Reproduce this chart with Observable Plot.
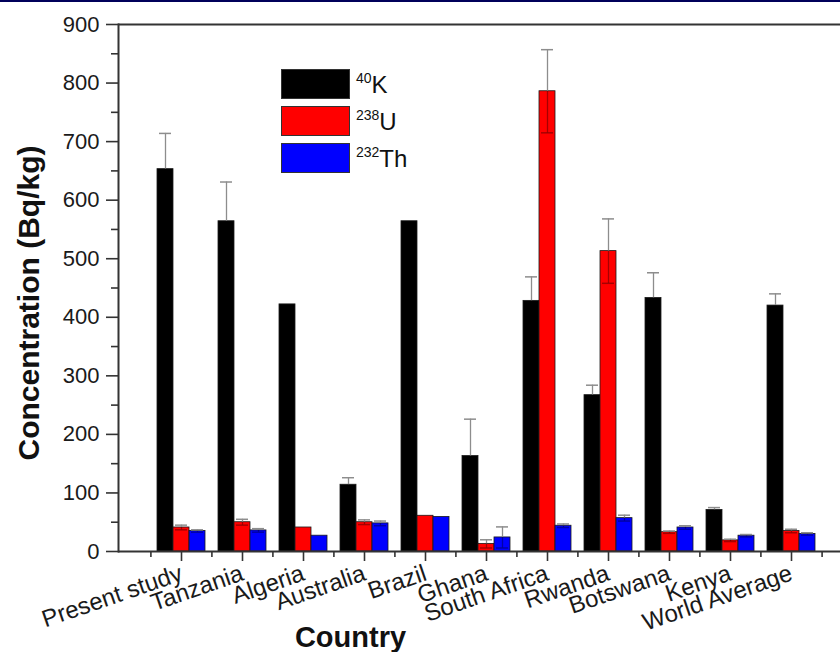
<!DOCTYPE html>
<html>
<head>
<meta charset="utf-8">
<script src="https://cdn.jsdelivr.net/npm/d3@7"></script>
<script src="https://cdn.jsdelivr.net/npm/@observablehq/plot@0.6"></script>
<style>
  html, body { margin: 0; padding: 0; background: #fff; overflow: hidden; }
  #wrap { position: relative; width: 840px; height: 652px; overflow: hidden; background: #fff; }
  #topbar { position: absolute; left: 0; top: 0; width: 840px; height: 2px; background: #00005a; }
  #legend { position: absolute; left: 281px; top: 69px; font-family: "Liberation Sans", Arial, sans-serif; color: #111; }
  .lrow { position: absolute; left: 0; height: 30px; width: 200px; }
  .lbox { position: absolute; left: 0; top: 0; width: 67px; height: 28px; border: 1px solid #333; }
  .ltxt { position: absolute; left: 75px; top: 2px; font-size: 24px; line-height: 28px; white-space: nowrap; }
  .ltxt sup { font-size: 14px; vertical-align: 0; position: relative; top: -10px; }
</style>
</head>
<body>
<div id="wrap">
  <div id="chart"></div>
  <div id="legend"></div>
  <div id="topbar"></div>
</div>
<script>
// ---- data ----
const countries = ["Present study", "Tanzania", "Algeria", "Australia", "Brazil", "Ghana", "South Africa", "Rwanda", "Botswana", "Kenya", "World Average"];
const k40 =      [653, 564, 422, 114, 564, 163, 428, 267, 433, 71, 420];
const k40Err =   [ 61,  67,   0,  12,   0,  63,  41,  17,  43,  4,  20];
const u238 =     [ 41,  50,  41,  50,  61,  13, 786, 513,  33, 19,  35];
const u238Err =  [  4,   5,   0,   4,   0,   7,  71,  55,   2,  2,   3];
const th232 =    [ 35,  36,  27,  48,  59,  24,  44,  57,  41, 27,  30];
const th232Err = [  2,   3,   0,   4,   0,  18,   3,   5,   3,  2,   2];
const seriesSup = ["40", "238", "232"];
const seriesSym = ["K", "U", "Th"];
const seriesColors = ["#000000", "#ff0000", "#0000ff"];
const yMajor = [0, 100, 200, 300, 400, 500, 600, 700, 800, 900];
const yMinor = [50, 150, 250, 350, 450, 550, 650, 750, 850];
const yTitle = "Concentration (Bq/kg)";
const xTitle = "Country";

const seriesValues = [k40, u238, th232];
const seriesErrs = [k40Err, u238Err, th232Err];

// ---- marks ----
const barW = 16;
const marks = [];
seriesValues.forEach((vals, j) => {
  const rows = countries.map((c, i) => ({country: c, value: vals[i], err: seriesErrs[j][i]}));
  const withErr = rows.filter(d => d.err > 0);
  const off = (j - 1) * barW;
  marks.push(Plot.barY(rows, {
    x: "country", y: "value", fill: seriesColors[j],
    stroke: "#1a1a1a", strokeWidth: 0.8,
    insetLeft: j * barW, insetRight: (2 - j) * barW
  }));
  // upper half of error bar (visible grey)
  marks.push(Plot.ruleX(withErr, {x: "country", y1: "value", y2: d => d.value + d.err, stroke: "#8d8d8d", strokeWidth: 1.3, dx: off}));
  marks.push(Plot.tickY(withErr, {x: "country", y: d => d.value + d.err, stroke: "#8d8d8d", strokeWidth: 1.5,
    insetLeft: 2 + j * barW, insetRight: 2 + (2 - j) * barW}));
  // lower half, drawn over the coloured bar
  marks.push(Plot.ruleX(withErr, {x: "country", y1: d => Math.max(0, d.value - d.err), y2: "value", stroke: "#000", strokeOpacity: 0.35, strokeWidth: 1.3, dx: off}));
  marks.push(Plot.tickY(withErr, {x: "country", y: d => Math.max(0, d.value - d.err), stroke: "#000", strokeOpacity: 0.35, strokeWidth: 1.5,
    insetLeft: 2 + j * barW, insetRight: 2 + (2 - j) * barW}));
});

const chart = Plot.plot({
  width: 840,
  height: 652,
  marginTop: 24,
  marginBottom: 101,
  marginLeft: 118,
  marginRight: 0,
  style: {fontFamily: "'Liberation Sans', Arial, sans-serif", color: "#1a1a1a", background: "transparent"},
  x: {domain: countries, range: [118.3, 852.7], paddingInner: 0.216, paddingOuter: 0.608},
  y: {domain: [0, 900]},
  marks: [
    ...marks,
    Plot.ruleY([0, 900], {stroke: "#333", strokeWidth: 2}),
    Plot.frame({anchor: "left", stroke: "#333", strokeWidth: 2}),
    Plot.axisY(yMajor, {tickSize: 12, tickPadding: 7, fontSize: 22, stroke: "#333", strokeWidth: 1.6, label: null}),
    Plot.axisY(yMinor, {tickSize: 7, tickFormat: () => "", stroke: "#333", strokeWidth: 1.6, label: null}),
    Plot.axisX({tickSize: 10, tickPadding: 11, tickRotate: -19, fontSize: 24, stroke: "#333", strokeWidth: 1.6, label: null}),
    Plot.axisX({tickSize: 6, dx: -30.6, tickFormat: () => "", stroke: "#333", strokeWidth: 1.6, label: null}),
    Plot.axisX(countries.slice(-1), {tickSize: 6, dx: 30.6, tickFormat: () => "", stroke: "#333", strokeWidth: 1.6, label: null}),
    Plot.text([yTitle], {frameAnchor: "left", textAnchor: "middle", rotate: -90, dx: -89, dy: 15, fontSize: 30, fontWeight: "bold", fill: "#111"}),
    Plot.text([xTitle], {frameAnchor: "bottom", textAnchor: "middle", dx: -129, dy: 95, fontSize: 29, fontWeight: "bold", fill: "#111"})
  ]
});
document.getElementById("chart").appendChild(chart);

// ---- legend (inside the plot area) ----
const legend = document.getElementById("legend");
seriesSym.forEach((s, j) => {
  const row = document.createElement("div");
  row.className = "lrow";
  row.style.top = (j * 37) + "px";
  const box = document.createElement("div");
  box.className = "lbox";
  box.style.background = seriesColors[j];
  const txt = document.createElement("div");
  txt.className = "ltxt";
  const sup = document.createElement("sup");
  sup.textContent = seriesSup[j];
  txt.appendChild(sup);
  txt.appendChild(document.createTextNode(s));
  row.appendChild(box);
  row.appendChild(txt);
  legend.appendChild(row);
});
</script>
</body>
</html>
